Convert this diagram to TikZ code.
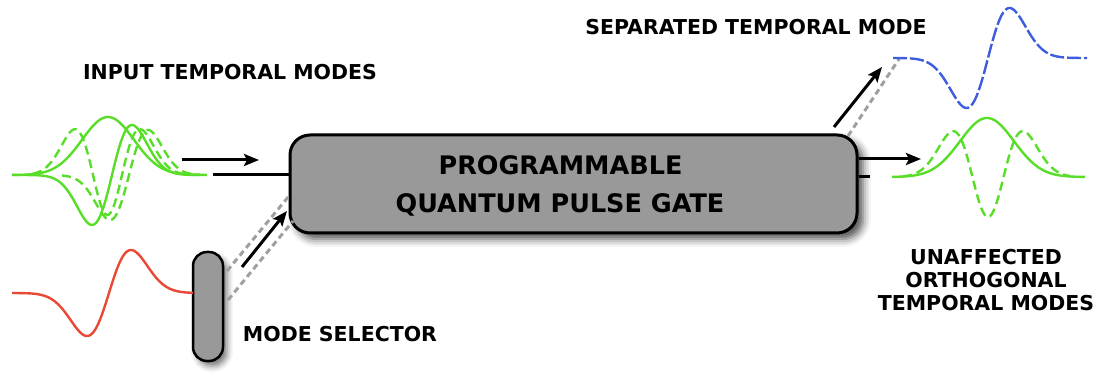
\documentclass[tikz,border=0pt]{standalone}
\usepackage{fontspec}
\setmainfont{DejaVu Sans}
\usetikzlibrary{arrows.meta,shadows.blur,calc}

\definecolor{modegreen}{RGB}{88,222,40}
\definecolor{modeblue}{RGB}{62,92,222}
\definecolor{modered}{RGB}{232,72,52}
\definecolor{gatefill}{RGB}{153,153,153}
\definecolor{beamgray}{RGB}{160,160,160}

\tikzset{
  x=1pt, y=-1pt,
  declare function={
    gau(\t,\c,\s)=exp(-0.5*((\t-\c)/\s)^2);
    hgone(\t,\c,\s)=((\t-\c)/\s)*exp(-0.5*((\t-\c)/\s)^2)/0.6065;
    hgtwo(\t,\c,\s)=(2*((\t-\c)/\s)^2-1)*exp(-0.5*((\t-\c)/\s)^2);
  },
  label/.style={font=\fontsize{20.5}{23}\selectfont\bfseries, inner sep=0pt},
  gatebox/.style={draw=black, line width=3pt, fill=gatefill, rounded corners=20pt,
    minimum width=567pt, minimum height=98pt, align=center, inner sep=0pt,
    font=\fontsize{25.5}{38}\selectfont\bfseries,
    blur shadow={shadow xshift=6pt, shadow yshift=-6pt, shadow opacity=70, shadow blur radius=8pt}},
  selbox/.style={draw=black, line width=2.5pt, fill=gatefill, rounded corners=14pt,
    minimum width=30pt, minimum height=109pt, inner sep=0pt,
    blur shadow={shadow xshift=4pt, shadow yshift=-5pt, shadow opacity=55, shadow blur radius=6pt}},
  wire/.style={line width=3pt, black},
  arr/.style={line width=3pt, black, -{Stealth[length=15pt,width=12pt,inset=3pt]}},
  beam/.style={line width=3pt, beamgray, dash pattern=on 6pt off 4pt},
  solidmode/.style={line width=2.4pt, line join=round},
  dashmode/.style={line width=2.4pt, dash pattern=on 9pt off 5pt},
  bluemode/.style={line width=2.4pt, modeblue, dash pattern=on 14pt off 3pt},
}

\begin{document}
\begin{tikzpicture}
\useasboundingbox (0,0) rectangle (1102,379);

% gate and mode selector (trailing space on each line nudges the text left)
\node[gatebox] (qpg) at (573.5,184)
  {\rule{0pt}{23pt}PROGRAMMABLE\hspace*{26pt}\\QUANTUM PULSE GATE\hspace*{27pt}};
\node[selbox] (sel) at (208,306.5) {};

% labels
\node[label, anchor=base] (lin) at (230,80) {INPUT TEMPORAL MODES};
\node[label, anchor=base] (lsep) at (756,35) {SEPARATED TEMPORAL MODE};
\node[label, anchor=base] (lsel) at (340,341) {MODE SELECTOR};
\node[label, anchor=north, align=center] (lorth) at (986,249)
  {UNAFFECTED\\ORTHOGONAL\\TEMPORAL MODES};

% input modes
\draw[modegreen, solidmode] plot[domain=12:207, samples=120] (\x,{175-58*gau(\x,108,26)});
\draw[modegreen, solidmode] plot[domain=12:200, samples=120] (\x,{175-50*hgone(\x,112,20)});
\draw[modegreen, dashmode] plot[domain=33:195, samples=120] (\x,{175-40*hgtwo(\x,107.5,20.5)});
\draw[modegreen, dashmode] plot[domain=62:200, samples=120] (\x,{175-45*hgone(\x,129,19)});

% input beam into the gate
\coordinate (inA) at (213,175);
\draw[wire] (inA) -- (inA -| qpg.west);
\coordinate (inArrA) at (182,160);
\coordinate (inArrB) at (259,160);
\draw[arr] (inArrA) -- (inArrB);

% selector mode
\draw[modered, solidmode] plot[domain=12:193, samples=120] (\x,{293-43*hgone(\x,109,22)});

% selector beam into the gate
\coordinate (selA) at (227,271);
\coordinate (selB) at (289,196);
\coordinate (selC) at (228,300);
\coordinate (selD) at (293,221);
\draw[beam] (selA) -- (selB);
\draw[beam] (selC) -- (selD);
\coordinate (selArrA) at (242,267);
\coordinate (selArrB) at (287,211);
\draw[arr] (selArrA) -- (selArrB);

% separated mode output
\coordinate (sepA) at (848,136);
\coordinate (sepB) at (899,59);
\draw[beam] (sepA) -- (sepB);
\coordinate (sepArrA) at (834,127);
\coordinate (sepArrB) at (882,67);
\draw[arr] (sepArrA) -- (sepArrB);
\draw[bluemode] plot[domain=893:1087, samples=140] (\x,{58-50*hgone(\x,988,21.5)});

% orthogonal modes output
\coordinate (outA) at (870,177);
\draw[wire] (outA -| qpg.east) -- (outA);
\coordinate (outArrB) at (921,159);
\draw[arr] (outArrB -| qpg.east) -- (outArrB);
\draw[modegreen, solidmode] plot[domain=892:1085, samples=120] (\x,{177-59*gau(\x,987,27)});
\draw[modegreen, dashmode] plot[domain=903:1070, samples=120] (\x,{177-40*hgtwo(\x,988,22)});
\end{tikzpicture}
\end{document}
